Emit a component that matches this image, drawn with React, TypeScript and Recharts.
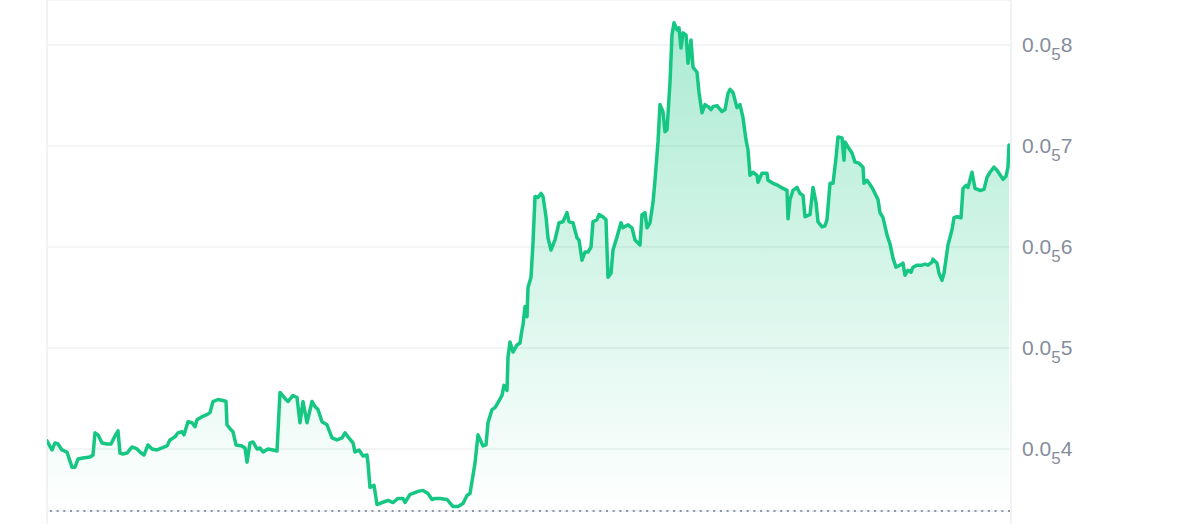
import React from "react";
import { AreaChart, Area, XAxis, YAxis, CartesianGrid, ReferenceLine } from "recharts";

// time index (10-minute steps from the start of the window)
const times: number[] = [
  0, 5, 8, 11, 15, 20, 22, 25, 28, 31, 36, 43, 46, 48, 51, 55, 60, 64, 67, 71,
  73, 76, 80, 85, 90, 93, 97, 101, 105, 110, 115, 120, 123, 128, 131, 135, 137, 141, 145, 148,
  150, 155, 160, 163, 166, 171, 176, 179, 180, 184, 186, 189, 195, 198, 200, 203, 206, 210, 213, 216,
  221, 226, 230, 233, 238, 241, 246, 250, 253, 256, 260, 265, 268, 271, 275, 280, 285, 290, 295, 298,
  301, 306, 308, 312, 316, 320, 321, 323, 327, 330, 335, 341, 346, 351, 356, 358, 363, 366, 371, 376,
  381, 385, 388, 393, 400, 406, 411, 416, 420, 423, 428, 431, 436, 439, 441, 445, 448, 451, 455, 457,
  460, 461, 463, 466, 470, 473, 475, 476, 478, 480, 481, 484, 486, 488, 491, 494, 496, 499, 501, 504,
  508, 512, 516, 520, 522, 526, 530, 532, 535, 538, 541, 544, 546, 550, 552, 556, 559, 561, 564, 566,
  570, 574, 576, 581, 585, 588, 593, 595, 598, 600, 603, 606, 608, 611, 613, 616, 618, 620, 623, 625,
  627, 630, 632, 634, 636, 639, 641, 644, 646, 650, 652, 655, 658, 661, 664, 666, 670, 675, 678, 681,
  683, 686, 690, 693, 696, 699, 701, 703, 706, 710, 711, 715, 720, 721, 726, 731, 736, 740, 741, 743,
  746, 750, 753, 756, 758, 763, 766, 769, 771, 775, 778, 780, 783, 786, 789, 791, 795, 797, 798, 801,
  805, 808, 812, 816, 817, 820, 825, 828, 831, 833, 836, 840, 843, 846, 849, 853, 856, 858, 861, 864,
  866, 870, 875, 878, 881, 885, 886, 890, 892, 895, 897, 901, 905, 907, 910, 914, 916, 919, 921, 925,
  928, 933, 937, 940, 943, 947, 950, 952, 956, 959, 961, 962,
];

// price in millionths (0.0₅8 = 0.000008)
const prices: number[] = [
  4.08, 3.99, 4.06, 4.05, 3.99, 3.97, 3.91, 3.82, 3.82, 3.9, 3.91, 3.92, 3.94, 4.16, 4.14, 4.06, 4.05, 4.05, 4.11, 4.18,
  3.96, 3.95, 3.96, 4.02, 4.0, 3.97, 3.94, 4.04, 4.0, 3.99, 4.01, 4.03, 4.09, 4.12, 4.16, 4.17, 4.14, 4.27, 4.26, 4.22,
  4.29, 4.32, 4.34, 4.36, 4.47, 4.49, 4.48, 4.47, 4.24, 4.19, 4.17, 4.04, 4.03, 4.01, 3.87, 4.06, 4.07, 4.0, 4.01, 3.97,
  4.0, 3.99, 3.98, 4.56, 4.5, 4.47, 4.53, 4.51, 4.26, 4.47, 4.26, 4.47, 4.42, 4.39, 4.27, 4.24, 4.11, 4.09, 4.11, 4.16,
  4.12, 4.06, 3.97, 3.99, 3.93, 3.94, 3.86, 3.62, 3.64, 3.45, 3.47, 3.49, 3.47, 3.51, 3.51, 3.47, 3.55, 3.56, 3.58, 3.59,
  3.56, 3.5, 3.51, 3.51, 3.5, 3.43, 3.43, 3.46, 3.54, 3.56, 3.86, 4.14, 4.03, 4.04, 4.26, 4.39, 4.41, 4.46, 4.53, 4.63,
  4.58, 4.91, 5.06, 4.96, 5.03, 5.05, 5.18, 5.23, 5.41, 5.31, 5.6, 5.7, 6.04, 6.5, 6.49, 6.53, 6.5, 6.3, 6.09, 5.97,
  6.07, 6.24, 6.25, 6.34, 6.25, 6.24, 6.09, 6.07, 5.87, 5.95, 5.95, 6.0, 6.25, 6.27, 6.32, 6.3, 6.27, 5.7, 5.74, 5.97,
  6.1, 6.24, 6.19, 6.22, 6.19, 6.07, 6.02, 6.32, 6.34, 6.19, 6.24, 6.44, 6.66, 7.04, 7.41, 7.34, 7.14, 7.16, 7.63, 8.1,
  8.22, 8.15, 8.17, 7.97, 8.12, 8.1, 7.82, 8.05, 7.78, 7.73, 7.53, 7.33, 7.41, 7.39, 7.36, 7.39, 7.4, 7.34, 7.36, 7.52,
  7.56, 7.53, 7.38, 7.41, 7.28, 7.06, 6.96, 6.71, 6.74, 6.71, 6.64, 6.73, 6.73, 6.66, 6.63, 6.61, 6.58, 6.56, 6.28, 6.47,
  6.56, 6.59, 6.53, 6.51, 6.3, 6.32, 6.59, 6.44, 6.25, 6.2, 6.21, 6.27, 6.63, 6.63, 6.88, 7.09, 7.08, 6.86, 7.04, 6.99,
  6.93, 6.84, 6.83, 6.79, 6.63, 6.66, 6.59, 6.53, 6.47, 6.34, 6.29, 6.12, 6.03, 5.89, 5.8, 5.82, 5.84, 5.72, 5.77, 5.75,
  5.8, 5.82, 5.82, 5.83, 5.82, 5.85, 5.88, 5.84, 5.74, 5.67, 5.74, 6.02, 6.17, 6.29, 6.3, 6.29, 6.58, 6.61, 6.59, 6.74,
  6.58, 6.56, 6.57, 6.69, 6.74, 6.79, 6.76, 6.73, 6.67, 6.7, 6.79, 7.01,
];

const yTicks: number[] = [4, 5, 6, 7, 8];
const yDomain: number[] = [3.386, 8.4455];
const xDomain: number[] = [0, 963];
const baseLevel = 3.386;

const data = times.map((t, i) => ({ t, p: prices[i] }));

const GREEN = "#16c784";
const LABEL = "#858d9c";

const PriceTick = (props: any) => {
  const { x, y, payload } = props;
  return (
    <text
      x={x}
      y={y}
      dy={7}
      fill={LABEL}
      fontSize={21}
      fontFamily="'Liberation Sans', Arial, sans-serif"
      textAnchor="start"
    >
      0.0
      <tspan dy={8} fontSize={17}>5</tspan>
      <tspan dy={-8}>{String(payload.value)}</tspan>
    </text>
  );
};

export default function App() {
  return (
    <div style={{ position: "fixed", left: 0, top: 0, width: 1200, height: 524, background: "#fff", overflow: "hidden" }}>
      <div
        style={{
          position: "absolute",
          left: 46,
          top: 0,
          width: 962,
          height: 524,
          borderLeft: "2px solid #f1f2f4",
          borderRight: "2px solid #f1f2f4",
        }}
      />
      <div style={{ position: "absolute", left: 0, top: 0 }}>
        <AreaChart width={1200} height={524} data={data} margin={{ top: 0, right: 0, bottom: 13, left: 47 }}>
          <defs>
            <linearGradient id="priceFill" x1="0" y1="0" x2="0" y2="1">
              <stop offset="0%" stopColor={GREEN} stopOpacity={0.36} />
              <stop offset="100%" stopColor={GREEN} stopOpacity={0.0} />
            </linearGradient>
          </defs>
          <CartesianGrid horizontal vertical={false} stroke="#eef0f2" strokeWidth={1.5} />
          <XAxis type="number" dataKey="t" domain={xDomain} hide allowDataOverflow />
          <YAxis
            orientation="right"
            width={190}
            domain={yDomain}
            ticks={yTicks}
            allowDataOverflow
            axisLine={false}
            tickLine={false}
            tickSize={6}
            tickMargin={6}
            tick={<PriceTick />}
            interval={0}
          />
          <ReferenceLine y={baseLevel} stroke="#8e96a4" strokeWidth={2} strokeDasharray="2 4.7" ifOverflow="extendDomain" />
          <Area
            type="linear"
            dataKey="p"
            stroke={GREEN}
            strokeWidth={3.5}
            strokeLinejoin="round"
            strokeLinecap="round"
            fill="url(#priceFill)"
            fillOpacity={1}
            baseValue={baseLevel}
            dot={false}
            activeDot={false}
            isAnimationActive={false}
          />
        </AreaChart>
      </div>
    </div>
  );
}
